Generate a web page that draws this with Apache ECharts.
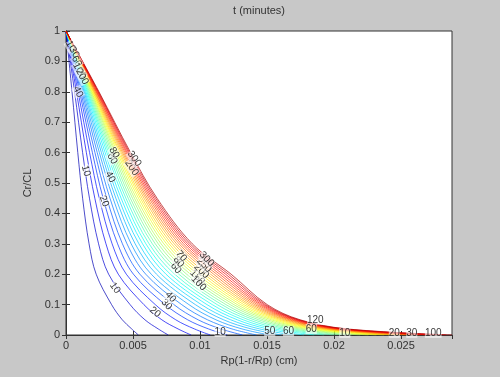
<!DOCTYPE html>
<html>
<head>
<meta charset="utf-8">
<script src="https://cdn.jsdelivr.net/npm/echarts@6/dist/echarts.min.js"></script>
<style>
html, body { margin: 0; padding: 0; background: #fff; }
#chart { width: 500px; height: 377px; }
</style>
</head>
<body>
<div id="chart"></div>
<script>
// contour levels, t in minutes
const times = [10, 20, 30, 40, 50, 60, 70, 80, 90, 100, 110, 120, 130, 140, 150,
  160, 170, 180, 190, 200, 210, 220, 230, 240, 250, 260, 270, 280, 290, 300];

const crLevels = [1, 0.8, 0.6, 0.45, 0.3, 0.2, 0.1, 0.05, 0.02, 0];

// Rp(1-r/Rp) in units of 0.001 cm, one row per time (same order as times)
const depth = [
  [0, 0.45, 0.88, 1.24, 1.72, 2.25, 3.40, 4.20, 4.90, 5.40],
  [0, 0.64, 1.24, 1.75, 2.43, 3.18, 4.78, 5.89, 6.88, 7.63],
  [0, 0.78, 1.52, 2.15, 2.98, 3.90, 5.81, 7.15, 8.36, 9.34],
  [0, 0.90, 1.76, 2.48, 3.44, 4.50, 6.66, 8.19, 9.58, 10.77],
  [0, 1.01, 1.97, 2.77, 3.85, 5.03, 7.40, 9.08, 10.63, 12.03],
  [0, 1.10, 2.16, 3.04, 4.21, 5.51, 8.05, 9.86, 11.55, 13.17],
  [0, 1.19, 2.33, 3.28, 4.55, 5.95, 8.63, 10.56, 12.38, 14.21],
  [0, 1.27, 2.49, 3.51, 4.86, 6.36, 9.17, 11.19, 13.13, 15.18],
  [0, 1.35, 2.64, 3.72, 5.16, 6.75, 9.65, 11.76, 13.82, 16.08],
  [0, 1.42, 2.78, 3.92, 5.44, 7.11, 10.10, 12.29, 14.44, 16.94],
  [0, 1.49, 2.92, 4.11, 5.71, 7.46, 10.52, 12.78, 15.03, 17.75],
  [0, 1.56, 3.05, 4.30, 5.96, 7.79, 10.91, 13.22, 15.57, 18.52],
  [0, 1.62, 3.17, 4.47, 6.20, 8.11, 11.28, 13.64, 16.07, 19.26],
  [0, 1.68, 3.29, 4.64, 6.44, 8.42, 11.62, 14.03, 16.54, 19.97],
  [0, 1.74, 3.41, 4.80, 6.66, 8.71, 11.93, 14.38, 16.98, 20.65],
  [0, 1.80, 3.52, 4.96, 6.88, 9.00, 12.24, 14.71, 17.39, 21.31],
  [0, 1.86, 3.63, 5.11, 7.09, 9.28, 12.52, 15.02, 17.77, 21.95],
  [0, 1.91, 3.73, 5.26, 7.30, 9.55, 12.78, 15.31, 18.13, 22.56],
  [0, 1.96, 3.84, 5.41, 7.50, 9.81, 13.03, 15.57, 18.46, 23.16],
  [0, 2.01, 3.94, 5.55, 7.69, 10.06, 13.27, 15.82, 18.78, 23.74],
  [0, 2.06, 4.03, 5.68, 7.88, 10.31, 13.50, 16.05, 19.07, 24.30],
  [0, 2.11, 4.13, 5.82, 8.07, 10.55, 13.70, 16.27, 19.35, 24.85],
  [0, 2.16, 4.22, 5.95, 8.25, 10.79, 13.90, 16.46, 19.61, 25.39],
  [0, 2.20, 4.31, 6.07, 8.43, 11.02, 14.09, 16.65, 19.85, 25.91],
  [0, 2.25, 4.40, 6.20, 8.60, 11.25, 14.27, 16.82, 20.07, 26.42],
  [0, 2.29, 4.49, 6.32, 8.77, 11.47, 14.44, 16.97, 20.28, 26.92],
  [0, 2.34, 4.57, 6.44, 8.94, 11.69, 14.59, 17.12, 20.47, 27.40],
  [0, 2.38, 4.66, 6.56, 9.10, 11.91, 14.74, 17.25, 20.66, 27.89],
  [0, 2.42, 4.74, 6.68, 9.26, 12.12, 14.87, 17.36, 20.82, 28.35],
  [0, 2.46, 4.82, 6.79, 9.42, 12.32, 15.01, 17.47, 20.98, 28.80]
];

// contour labels: [depth (0.001 cm), Cr/CL, text, angle]
const labelPts = [
  [0.35, 0.95, "10", -60], [0.6, 0.93, "30", -60], [0.8, 0.9, "60", -60],
  [1.0, 0.87, "100", -60], [1.2, 0.85, "200", -62], [0.9, 0.8, "40", -65],
  [1.49, 0.54, "10", -75], [2.84, 0.44, "20", -68], [3.3, 0.52, "40", -62],
  [3.45, 0.58, "60", -60], [3.6, 0.6, "80", -60], [4.9, 0.55, "200", -55],
  [5.1, 0.58, "300", -55],
  [3.66, 0.155, "10", -55], [6.64, 0.075, "20", -40], [7.5, 0.1, "30", -45],
  [7.8, 0.125, "40", -48], [8.2, 0.22, "60", -50], [8.4, 0.24, "80", -50],
  [8.6, 0.26, "70", -50],
  [9.8, 0.19, "150", -45], [10.1, 0.21, "200", -45], [10.3, 0.23, "250", -45],
  [10.5, 0.25, "300", -45], [9.9, 0.17, "100", -45],
  [11.5, 0.01, "10", 0], [15.2, 0.012, "50", 0], [16.6, 0.012, "60", 0],
  [18.6, 0.05, "120", 0], [18.3, 0.02, "60", 0], [20.8, 0.007, "10", 0],
  [24.5, 0.007, "20", 0], [25.8, 0.007, "30", 0], [27.4, 0.007, "100", 0]
];

const chart = echarts.init(document.getElementById("chart"));

// MATLAB jet colormap
function jet(v) {
  const c = x => Math.round(255 * Math.max(0, Math.min(1, x)));
  return "rgb(" + c(1.5 - Math.abs(4 * v - 3)) + "," + c(1.5 - Math.abs(4 * v - 2)) + "," + c(1.5 - Math.abs(4 * v - 1)) + ")";
}

const series = times.map((t, i) => ({
  name: String(t),
  type: "line",
  data: crLevels.map((c, k) => [depth[i][k] / 1000, c]),
  showSymbol: false,
  smooth: 0.35,
  lineStyle: { width: 1, color: jet(0.05 + 0.9 * i / (times.length - 1)), opacity: 0.7 },
  z: 2,
  silent: true
}));

series.push({
  type: "scatter",
  symbolSize: 0,
  z: 5,
  data: labelPts.map(p => ({
    value: [p[0] / 1000, p[1]],
    label: { formatter: p[2], rotate: p[3] }
  })),
  label: {
    show: true,
    position: "inside",
    color: "#000",
    fontSize: 10,
    fontFamily: "Liberation Sans",
    backgroundColor: "rgba(255,255,255,0.75)",
    padding: [0, 0]
  }
});

const axisFont = { color: "#333", fontSize: 11, fontFamily: "Liberation Sans" };
const frameLine = { lineStyle: { color: "#333", width: 1 } };

const option = {
  backgroundColor: "#c8c8c8",
  animation: false,
  grid: {
    left: 66, top: 31, right: 48, bottom: 42,
    show: true, backgroundColor: "#fff", borderColor: "#333", borderWidth: 1
  },
  graphic: [{
    type: "text",
    x: 259, y: 5,
    style: { text: "t (minutes)", textAlign: "center", fill: "#333", font: "11px Liberation Sans" }
  }],
  xAxis: [{
    type: "value", min: 0, max: 0.0288, interval: 0.005,
    name: "Rp(1-r/Rp) (cm)", nameLocation: "middle", nameGap: 16,
    nameTextStyle: axisFont,
    axisLine: frameLine,
    axisTick: { inside: true, length: 4, lineStyle: { color: "#333" } },
    axisLabel: Object.assign({ margin: 5, showMaxLabel: false }, axisFont),
    splitLine: { show: false }
  }, {
    type: "value", min: 0, max: 0.0288, interval: 0.005, position: "top",
    axisLine: frameLine,
    axisTick: { inside: true, length: 4, lineStyle: { color: "#333" } },
    axisLabel: { show: false },
    splitLine: { show: false }
  }],
  yAxis: [{
    type: "value", min: 0, max: 1, interval: 0.1,
    name: "Cr/CL", nameLocation: "middle", nameGap: 23,
    nameTextStyle: axisFont,
    axisLine: frameLine,
    axisTick: { inside: true, length: 4, lineStyle: { color: "#333" } },
    axisLabel: Object.assign({ margin: 6 }, axisFont),
    splitLine: { show: false }
  }, {
    type: "value", min: 0, max: 1, interval: 0.1, position: "right",
    axisLine: frameLine,
    axisTick: { inside: true, length: 4, lineStyle: { color: "#333" } },
    axisLabel: { show: false },
    splitLine: { show: false }
  }],
  series: series
};

chart.setOption(option);
</script>
</body>
</html>
